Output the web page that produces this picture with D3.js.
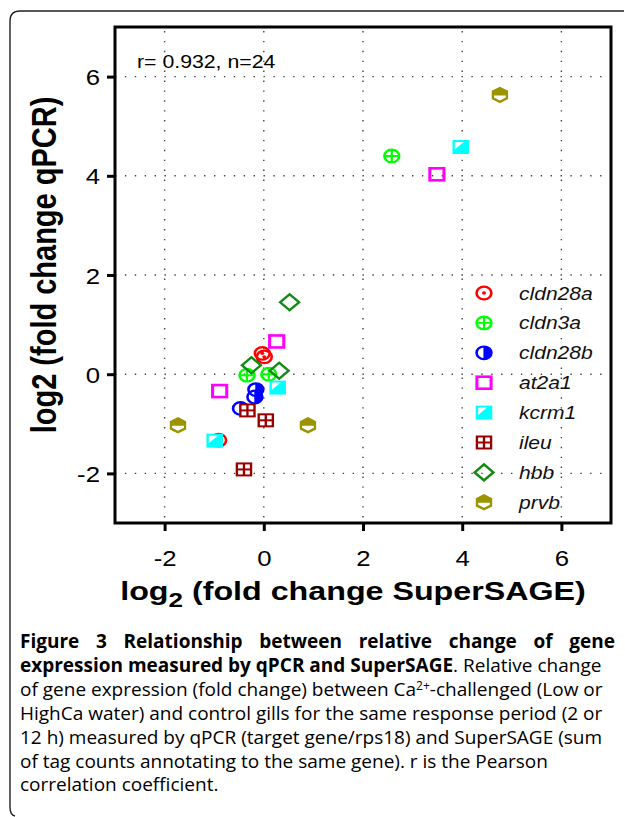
<!DOCTYPE html>
<html><head><meta charset="utf-8">
<script src="https://cdn.jsdelivr.net/npm/d3@7"></script>
<style>body{margin:0;background:#fff}svg{display:block}</style>
</head><body>
<svg id="c" width="625" height="817"></svg>
<script>
// ---- data: [log2 fold change SuperSAGE, log2 fold change qPCR] ----
const genes = ["cldn28a","cldn3a","cldn28b","at2a1","kcrm1","ileu","hbb","prvb"];
const cldn28a = [[-0.03,0.42],[0.01,0.35],[-0.91,-1.33]];
const cldn3a  = [[2.58,4.40],[-0.34,-0.02],[0.10,0.00]];
const cldn28b = [[-0.16,-0.31],[-0.18,-0.46],[-0.47,-0.69]];
const at2a1   = [[3.49,4.03],[0.26,0.66],[-0.89,-0.34]];
const kcrm1   = [[3.97,4.58],[0.28,-0.27],[-0.99,-1.34]];
const ileu    = [[-0.33,-0.73],[0.04,-0.93],[-0.40,-1.92]];
const hbb     = [[0.52,1.45],[-0.25,0.18],[0.31,0.07]];
const prvb    = [[4.76,5.63],[-1.73,-1.03],[0.89,-1.03]];
const xTicks = [-2,0,2,4,6];
const yTicks = [-2,0,2,4,6];
const statText = "r= 0.932, n=24";

const seriesData = {cldn28a, cldn3a, cldn28b, at2a1, kcrm1, ileu, hbb, prvb};
const colors = {cldn28a:"#ff0000", cldn3a:"#00ff00", cldn28b:"#0000ff", at2a1:"#ff00ff",
                kcrm1:"#00ffff", ileu:"#990000", hbb:"#108a10", prvb:"#9a9400"};

const svg = d3.select("#c");
const L = 115, T = 27, R = 611, B = 523;
const x = d3.scaleLinear().domain([-3,7]).range([L,R]);
const y = d3.scaleLinear().domain([-3,7]).range([B,T]);
const SX = 1.18; // horizontal stretch of the chart image

// outer frame
svg.append("path")
  .attr("d","M 624 11 L 20 11 Q 10 11 10 21 L 10 807 Q 10 815 15 816")
  .attr("fill","none").attr("stroke","#222").attr("stroke-width",1.4);

// grid
const grid = svg.append("g").attr("stroke","#444").attr("stroke-width",1.4)
  .attr("stroke-dasharray","1.4,8.5");
grid.selectAll(".vx").data(xTicks).join("line")
  .attr("x1",d=>x(d)).attr("x2",d=>x(d)).attr("y1",T+4).attr("y2",B);
grid.selectAll(".hy").data(yTicks).join("line")
  .attr("y1",d=>y(d)).attr("y2",d=>y(d)).attr("x1",L).attr("x2",R);

// marker drawer
function marker(g, gene){
  const c = colors[gene];
  const r = 6.3;
  switch(gene){
    case "cldn28a":
      g.append("circle").attr("r",r).attr("fill","none").attr("stroke",c).attr("stroke-width",2.2);
      g.append("circle").attr("r",1.7).attr("fill",c);
      break;
    case "cldn3a":
      g.append("circle").attr("r",r).attr("fill","none").attr("stroke",c).attr("stroke-width",2.2);
      g.append("path").attr("d",`M${-r},0H${r}M0,${-r}V${r}`).attr("stroke",c).attr("stroke-width",1.9);
      break;
    case "cldn28b":
      g.append("path").attr("d",`M-0.5,${-r} A${r},${r} 0 0 1 -0.5,${r} Z`).attr("fill",c);
      g.append("circle").attr("r",r).attr("fill","none").attr("stroke",c).attr("stroke-width",2.2);
      break;
    case "at2a1":
      g.append("rect").attr("x",-6).attr("y",-6).attr("width",12).attr("height",12)
        .attr("fill","none").attr("stroke",c).attr("stroke-width",2.6);
      break;
    case "kcrm1":
      g.append("rect").attr("x",-7).attr("y",-7).attr("width",14).attr("height",14).attr("fill",c);
      g.append("path").attr("d","M-5,-5 L2.5,-5 L-5,2.5 Z").attr("fill","#fff");
      break;
    case "ileu":
      g.append("rect").attr("x",-7).attr("y",-7).attr("width",14).attr("height",14).attr("fill",c);
      [[-5,-5],[1,-5],[-5,1],[1,1]].forEach(p=>
        g.append("rect").attr("x",p[0]).attr("y",p[1]).attr("width",4).attr("height",4).attr("fill","#fff"));
      break;
    case "hbb":
      g.append("path").attr("d","M0,-8 L8,0 L0,8 L-8,0 Z").attr("fill","none")
        .attr("stroke",c).attr("stroke-width",2.2);
      break;
    case "prvb": {
      const pts = d3.range(6).map(i=>{const a=(-90+60*i)*Math.PI/180; return [8*Math.cos(a),8.2*Math.sin(a)];});
      g.append("path").attr("d","M"+pts.map(p=>p.join(",")).join("L")+"Z").attr("fill",c);
      g.append("path").attr("d","M-5,0.5 L5,0.5 L5,2.5 L0,5.5 L-5,2.5 Z").attr("fill","#fff");
      break;
    }
  }
}

// points
const pts = svg.append("g");
genes.forEach(gene=>{
  pts.selectAll(null).data(seriesData[gene]).join("g")
    .attr("transform",d=>`translate(${x(d[0])},${y(d[1])}) scale(${SX},1)`)
    .each(function(){ marker(d3.select(this), gene); });
});

// axes
const xAxis = svg.append("g").attr("transform",`translate(0,${B})`)
  .call(d3.axisBottom(x).tickValues(xTicks).tickSize(8).tickPadding(0).tickFormat(d=>String(d)));
const yAxis = svg.append("g").attr("transform",`translate(${L},0)`)
  .call(d3.axisLeft(y).tickValues(yTicks).tickSize(8).tickPadding(0).tickFormat(d=>String(d)));
[xAxis,yAxis].forEach(a=>{
  a.select(".domain").remove();
  a.selectAll(".tick line").attr("stroke","#000").attr("stroke-width",3);
  a.selectAll(".tick text").attr("fill","#000").attr("font-family","Liberation Sans, Arial, sans-serif")
    .attr("font-size",23);
});
xAxis.selectAll(".tick text").attr("dy",null).attr("y",43).attr("transform",`scale(1.12,1)`);
yAxis.selectAll(".tick text").attr("dy","0.35em").attr("x",-15/1.12).attr("transform",`scale(1.12,1)`);

// plot box
svg.append("rect").attr("x",L).attr("y",T).attr("width",R-L).attr("height",B-T)
  .attr("fill","none").attr("stroke","#000").attr("stroke-width",3);

// stat text
svg.append("text").attr("transform",`translate(137,68) scale(1.12,1)`)
  .attr("font-family","Liberation Sans, Arial, sans-serif").attr("font-size",19).text(statText);

// legend
const lg = svg.append("g");
genes.forEach((gene,i)=>{
  const yy = 293 + i*29.9;
  const g = lg.append("g").attr("transform",`translate(484,${yy}) scale(${SX},1)`);
  marker(g, gene);
  lg.append("text").attr("transform",`translate(519,${yy+6.5}) scale(1.17,1)`)
    .attr("font-family","Liberation Sans, Arial, sans-serif").attr("font-style","italic")
    .attr("font-size",18).attr("fill","#111").text(gene);
});

// axis titles
const xt = svg.append("text").attr("transform",`translate(353,600) scale(1.24,1)`)
  .attr("text-anchor","middle").attr("font-family","Liberation Sans, Arial, sans-serif")
  .attr("font-weight","bold").attr("font-size",26);
xt.append("tspan").text("log");
xt.append("tspan").attr("font-size",21).attr("dy",7).text("2");
xt.append("tspan").attr("dy",-7).text(" (fold change SuperSAGE)");

svg.append("text").attr("transform",`translate(56,265) scale(1.2,1) rotate(-90)`)
  .attr("text-anchor","middle").attr("font-family","Liberation Sans, Arial, sans-serif")
  .attr("font-weight","bold").attr("font-size",29).text("log2 (fold change qPCR)");

// caption
const cap = svg.append("g").attr("font-family","Open Sans, sans-serif").attr("font-size",19).attr("fill","#000");
const base = 648, lh = 23.9, cx = 20;
const l1 = cap.append("text").attr("x",cx).attr("y",base).attr("font-weight","bold")
  .text("Figure 3 Relationship between relative change of gene");
{
  const w = l1.node().getComputedTextLength();
  const nSpaces = 7;
  l1.attr("word-spacing", Math.max(0,(595 - w)/nSpaces));
}
const l2 = cap.append("text").attr("x",cx).attr("y",base+lh);
l2.append("tspan").attr("font-weight","bold").text("expression measured by qPCR and SuperSAGE");
l2.append("tspan").text(". Relative change");
const l3 = cap.append("text").attr("x",cx).attr("y",base+2*lh);
l3.append("tspan").text("of gene expression (fold change) between Ca");
l3.append("tspan").attr("font-size",12).attr("dy",-6).text("2+");
l3.append("tspan").attr("dy",6).text("-challenged (Low or");
["HighCa water) and control gills for the same response period (2 or",
 "12 h) measured by qPCR (target gene/rps18) and SuperSAGE (sum",
 "of tag counts annotating to the same gene). r is the Pearson",
 "correlation coefficient."].forEach((t,i)=>
  cap.append("text").attr("x",cx).attr("y",base+(3+i)*lh).text(t));
</script>
</body></html>
